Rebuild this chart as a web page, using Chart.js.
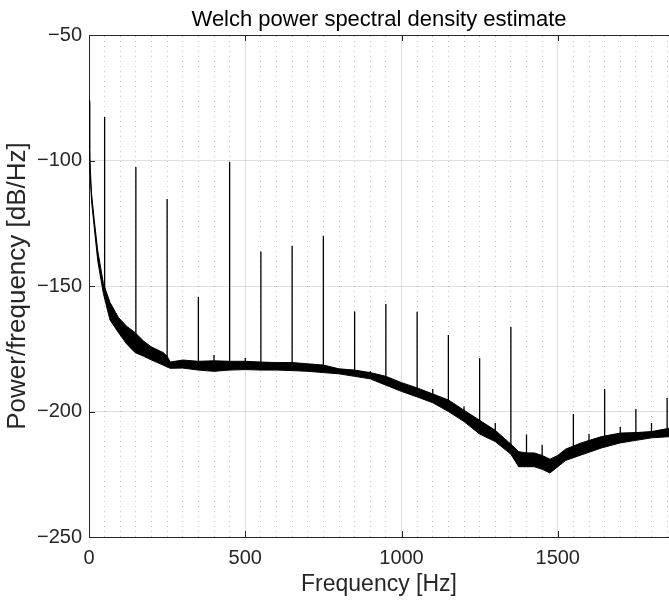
<!DOCTYPE html>
<html>
<head>
<meta charset="utf-8">
<script src="https://cdn.jsdelivr.net/npm/chart.js@4.4.1/dist/chart.umd.min.js"></script>
<style>
  html, body { margin: 0; padding: 0; background: #fff; }
  #c { display: block; }
</style>
</head>
<body>
<canvas id="c" width="669" height="601"></canvas>
<script>
// ---- Data ----
const titleText = 'Welch power spectral density estimate';
const xLabel = 'Frequency [Hz]';
const yLabel = 'Power/frequency [dB/Hz]';

const xMajorTicks = [0, 500, 1000, 1500];
const yMajorTicks = [-250, -200, -150, -100, -50];

// noise floor: frequency, upper edge and lower edge of the thick trace (dB/Hz)
const floorFreq  = [0, 2, 4, 8, 17, 28, 46, 67, 94, 120, 147, 175, 200, 237, 250, 260, 300, 350, 400, 450, 500, 550, 600, 650, 700, 750, 800, 850, 900, 950, 1000, 1050, 1100, 1150, 1200, 1250, 1300, 1350, 1375, 1400, 1425, 1450, 1475, 1500, 1525, 1575, 1640, 1700, 1750, 1800, 1860];
const floorUpper = [-76, -95, -103, -113, -124, -136, -149, -156.5, -162.5, -166, -168.5, -172, -174.3, -176.5, -178, -180.3, -179.5, -180, -179.8, -180, -180, -180.3, -180.5, -180.5, -181, -181.5, -183, -183.5, -184.5, -186, -188.5, -190.6, -193, -195.4, -199.5, -203.5, -207.5, -213, -216, -216.5, -216.5, -217.5, -219, -217.5, -215, -212.5, -210, -208.6, -208.4, -208, -206.6];
const floorLower = [-77, -98, -106, -116, -127, -140, -153, -163.5, -168.5, -173, -176.5, -178, -179.5, -181.5, -182.3, -182.8, -182.7, -183.5, -184, -183.5, -183.3, -183.5, -183.5, -183.7, -184, -184.5, -185, -186, -187, -189.5, -192, -194.2, -196.5, -200, -204, -209, -212, -217, -222, -222, -222, -223, -224.5, -222, -219.5, -217.3, -214.5, -212.5, -211.5, -210.5, -210];

// harmonic spikes: frequency, peak level, level where the spike meets the floor
const spikeFreq = [50, 150, 250, 350, 400, 450, 500, 550, 650, 750, 850, 900, 950, 1050, 1100, 1150, 1200, 1250, 1300, 1350, 1400, 1450, 1550, 1600, 1650, 1700, 1750, 1800, 1850];
const spikePeak = [-82.7, -102.6, -115.3, -154.4, -177.5, -100.6, -178.7, -136.3, -134, -130, -160.2, -184, -157.2, -160.3, -191, -169.5, -198, -178.8, -204.6, -166.3, -209.2, -213.2, -201, -209, -191, -206.2, -199, -204.6, -194.6];
const spikeBase = [-152, -172, -180, -181, -181, -181, -181, -181.5, -181.5, -182.5, -184.5, -185.5, -187.5, -192, -194.5, -197.5, -201.5, -206, -209.5, -215, -219, -220, -215, -213.5, -212, -210.5, -210, -209, -208];

// ---- Build library data ----
const upperPts = floorFreq.map((f, i) => ({ x: f, y: floorUpper[i] }));
const lowerPts = floorFreq.map((f, i) => ({ x: f, y: floorLower[i] }));
const spikePts = [];
spikeFreq.forEach((f, i) => {
  spikePts.push({ x: f, y: spikeBase[i] });
  spikePts.push({ x: f, y: spikePeak[i] });
  spikePts.push({ x: f, y: null });
});

const AXIS = '#262626';
const FONT = "'Liberation Sans', Arial, Helvetica, sans-serif";
const fmt = v => (v < 0 ? '\u2212' + Math.abs(v) : String(v));

const inwardTicks = {
  id: 'inwardTicks',
  afterDatasetsDraw(chart) {
    const { ctx, chartArea: a, scales } = chart;
    const x = scales.x, y = scales.y;
    const L = 6;
    ctx.save();
    ctx.strokeStyle = AXIS;
    ctx.lineWidth = 1;
    ctx.beginPath();
    x.ticks.forEach(t => {
      const px = Math.round(x.getPixelForValue(t.value)) + 0.5;
      ctx.moveTo(px, a.bottom); ctx.lineTo(px, a.bottom - L);
      ctx.moveTo(px, a.top); ctx.lineTo(px, a.top + L);
    });
    y.ticks.forEach(t => {
      const py = Math.round(y.getPixelForValue(t.value)) + 0.5;
      ctx.moveTo(a.left, py); ctx.lineTo(a.left + L, py);
    });
    ctx.stroke();
    ctx.restore();
  }
};

new Chart(document.getElementById('c'), {
  type: 'line',
  data: {
    datasets: [
      { data: upperPts, borderColor: '#000', backgroundColor: '#000', borderWidth: 1, pointRadius: 0, fill: '+1', tension: 0 },
      { data: lowerPts, borderColor: '#000', backgroundColor: '#000', borderWidth: 1, pointRadius: 0, fill: false, tension: 0 },
      { data: spikePts, borderColor: '#000', borderWidth: 1.3, pointRadius: 0, fill: false, spanGaps: false, tension: 0 }
    ]
  },
  options: {
    responsive: false,
    animation: false,
    devicePixelRatio: 1,
    layout: { padding: 0 },
    plugins: {
      legend: { display: false },
      tooltip: { enabled: false },
      title: { display: false }
    },
    scales: {
      x: {
        type: 'linear',
        position: 'bottom',
        min: 0,
        max: 1856,
        afterBuildTicks: s => { s.ticks = xMajorTicks.map(v => ({ value: v })); },
        afterFit: s => { s.height = 64; },
        ticks: {
          color: AXIS,
          font: { family: FONT, size: 20 },
          padding: 9,
          maxRotation: 0,
          callback: v => fmt(v)
        },
        grid: { color: 'rgba(38,38,38,0.15)', lineWidth: 1, drawTicks: false },
        border: { display: true, color: AXIS, width: 1 },
        title: {
          display: true,
          text: xLabel,
          color: AXIS,
          font: { family: FONT, size: 23, lineHeight: 1.2 },
          padding: { top: 0, bottom: 3 }
        }
      },
      xMinor: {
        type: 'linear',
        position: 'top',
        min: 0,
        max: 1856,
        afterBuildTicks: s => {
          const t = [];
          for (let v = 50; v < 1856; v += 50) t.push({ value: v });
          s.ticks = t;
        },
        afterFit: s => { s.height = 35; },
        ticks: { display: false },
        grid: {
          drawTicks: false,
          lineWidth: 1,
          color: c => (c.tick && c.tick.value % 500 === 0) ? 'rgba(0,0,0,0)' : 'rgba(80,80,80,0.32)'
        },
        border: { display: true, color: AXIS, width: 1, dash: c => (c.tick ? [1, 4] : []) },
        title: {
          display: true,
          text: titleText,
          color: '#000',
          font: { family: FONT, size: 22, lineHeight: 1.2 },
          padding: { top: 7, bottom: 0 }
        }
      },
      y: {
        type: 'linear',
        position: 'left',
        min: -250,
        max: -50,
        afterBuildTicks: s => { s.ticks = yMajorTicks.map(v => ({ value: v })); },
        afterFit: s => { s.width = 89; },
        ticks: {
          color: AXIS,
          font: { family: FONT, size: 20 },
          padding: 7,
          callback: v => fmt(v)
        },
        grid: { color: 'rgba(38,38,38,0.15)', lineWidth: 1, drawTicks: false },
        border: { display: true, color: AXIS, width: 1 },
        title: {
          display: true,
          text: yLabel,
          color: AXIS,
          font: { family: FONT, size: 26, lineHeight: 1.2 },
          padding: { top: 2, bottom: 0 }
        }
      }
    }
  },
  plugins: [inwardTicks]
});
</script>
</body>
</html>
